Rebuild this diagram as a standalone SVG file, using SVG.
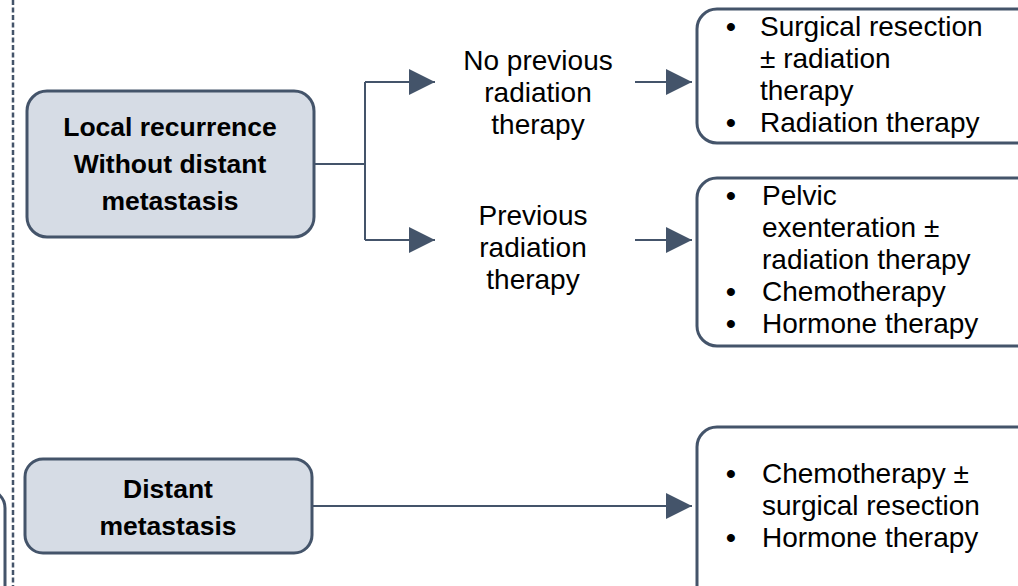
<svg xmlns="http://www.w3.org/2000/svg" width="1018" height="586" viewBox="0 0 1018 586">
<defs>
<marker id="ah" viewBox="0 0 10 10" refX="10" refY="5" markerWidth="26" markerHeight="26" markerUnits="userSpaceOnUse" orient="auto"><path d="M0,0 L10,5 L0,10 Z" fill="#44546A"/></marker>
<style>
.grey{fill:#D6DCE5;stroke:#44546A;stroke-width:3}
.white{fill:#FFFFFF;stroke:#44546A;stroke-width:3}
.conn{fill:none;stroke:#44546A;stroke-width:2}
.b{font-family:"Liberation Sans",Arial,sans-serif;font-weight:bold;font-size:26.5px;fill:#000;text-anchor:middle}
.t{font-family:"Liberation Sans",Arial,sans-serif;font-size:28px;fill:#000}
.c{text-anchor:middle}
.d{font-family:"Liberation Sans",Arial,sans-serif;font-size:28px;font-weight:bold;fill:#000;text-anchor:middle}
</style>
</defs>
<rect width="1018" height="586" fill="#FFFFFF"/>
<line x1="13" y1="0" x2="13" y2="586" stroke="#44546A" stroke-width="2.5" stroke-dasharray="5,2.5"/>
<rect x="-100" y="490" width="105" height="140" rx="18" class="white" stroke-width="2.5"/>
<g id="connectors">
<polyline class="conn" points="314,164 365,164"/>
<polyline class="conn" points="365,82 365,240"/>
<line class="conn" x1="365" y1="82" x2="435" y2="82" marker-end="url(#ah)"/>
<line class="conn" x1="365" y1="240" x2="435" y2="240" marker-end="url(#ah)"/>
<line class="conn" x1="635" y1="82" x2="692" y2="82" marker-end="url(#ah)"/>
<line class="conn" x1="635" y1="240" x2="692" y2="240" marker-end="url(#ah)"/>
<line class="conn" x1="312" y1="506" x2="692" y2="506" marker-end="url(#ah)"/>
</g>
<g id="local">
<rect x="27" y="91" width="287" height="146" rx="20" class="grey"/>
<text class="b" x="170" y="136">Local recurrence</text>
<text class="b" x="170" y="173">Without distant</text>
<text class="b" x="170" y="210">metastasis</text>
</g>
<g id="distant">
<rect x="25" y="459" width="287" height="94" rx="18" class="grey"/>
<text class="b" x="168" y="498">Distant</text>
<text class="b" x="168" y="535">metastasis</text>
</g>
<g id="noprev">
<text class="t c" x="538" y="70">No previous</text>
<text class="t c" x="538" y="102">radiation</text>
<text class="t c" x="538" y="134">therapy</text>
</g>
<g id="prev">
<text class="t c" x="533" y="225">Previous</text>
<text class="t c" x="533" y="257">radiation</text>
<text class="t c" x="533" y="289">therapy</text>
</g>
<g id="box1">
<rect x="697" y="9" width="340" height="134" rx="20" class="white"/>
<text class="d" x="731" y="36">•</text>
<text class="t" x="760" y="36">Surgical resection</text>
<text class="t" x="760" y="68">± radiation</text>
<text class="t" x="760" y="100">therapy</text>
<text class="d" x="731" y="132">•</text>
<text class="t" x="760" y="132">Radiation therapy</text>
</g>
<g id="box2">
<rect x="697" y="178" width="340" height="168" rx="20" class="white"/>
<text class="d" x="731" y="205">•</text>
<text class="t" x="762" y="205">Pelvic</text>
<text class="t" x="762" y="237">exenteration ±</text>
<text class="t" x="762" y="269">radiation therapy</text>
<text class="d" x="731" y="301">•</text>
<text class="t" x="762" y="301">Chemotherapy</text>
<text class="d" x="731" y="333">•</text>
<text class="t" x="762" y="333">Hormone therapy</text>
</g>
<g id="box3">
<rect x="697" y="427" width="340" height="200" rx="20" class="white"/>
<text class="d" x="731" y="483">•</text>
<text class="t" x="762" y="483">Chemotherapy ±</text>
<text class="t" x="762" y="515">surgical resection</text>
<text class="d" x="731" y="547">•</text>
<text class="t" x="762" y="547">Hormone therapy</text>
</g>
</svg>
